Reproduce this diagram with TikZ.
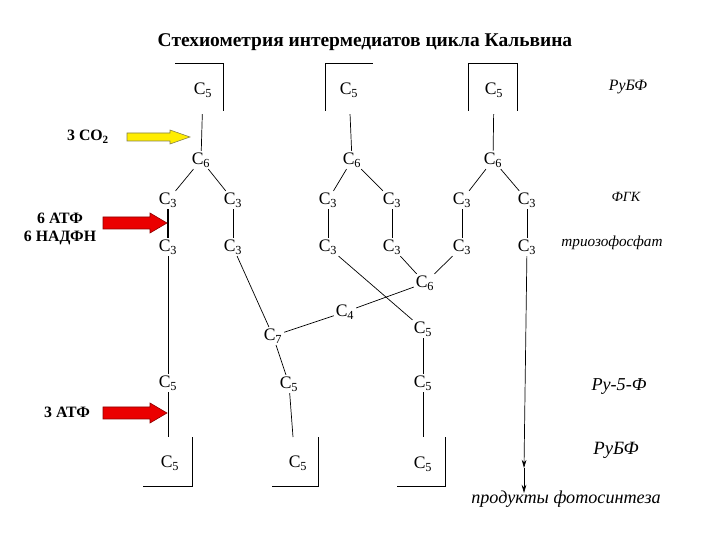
\documentclass[tikz,border=0pt]{standalone}
\usepackage{fontspec}
\setmainfont{Liberation Serif}
\usepackage{tikz}
\usetikzlibrary{arrows.meta}

\tikzset{
  cnode/.style={inner sep=1.5pt, font=\fontsize{15}{17}\selectfont},
  link/.style={line width=0.6pt},
  brk/.style={line width=0.6pt},
  sidelbl/.style={font=\fontsize{13.5}{15}\selectfont\bfseries, align=center},
  namelbl/.style={font=\fontsize{12.5}{15}\selectfont\itshape},
  yarrow/.style={fill=yellow!95!orange, draw=yellow!45!black, line width=0.5pt},
  rarrow/.style={fill=red!92!black, draw=red!55!black, line width=0.5pt},
}

\begin{document}
\begin{tikzpicture}[x=0.03cm, y=-0.03cm]
  \useasboundingbox (0,0) rectangle (720,540);

  \node[font=\fontsize{16.6}{18}\selectfont\bfseries] (title) at (365,42)
    {Стехиометрия интермедиатов цикла Кальвина};

  % brackets round the pentoses
  \draw[brk] (175,63) -- (223,63) -- (223,111);
  \draw[brk] (325,111) -- (325,63) -- (373,63);
  \draw[brk] (468,111) -- (468,63) -- (517,63) -- (517,111);
  \draw[brk] (192,437) -- (192,486) -- (143,486);
  \draw[brk] (318,437) -- (318,486) -- (272,486);
  \draw[brk] (445,437) -- (445,486) -- (397,486);

  % C-skeletons
  \node[cnode] (c5a) at (203,90) {C\textsubscript{5}};
  \node[cnode] (c5b) at (349,90) {C\textsubscript{5}};
  \node[cnode] (c5c) at (494,90) {C\textsubscript{5}};

  \node[cnode] (c6a) at (201,160) {C\textsubscript{6}};
  \node[cnode] (c6b) at (352,160) {C\textsubscript{6}};
  \node[cnode] (c6c) at (493,160) {C\textsubscript{6}};

  \node[cnode] (t1) at (168,200) {C\textsubscript{3}};
  \node[cnode] (t2) at (233,200) {C\textsubscript{3}};
  \node[cnode] (t3) at (328,200) {C\textsubscript{3}};
  \node[cnode] (t4) at (392,200) {C\textsubscript{3}};
  \node[cnode] (t5) at (462,200) {C\textsubscript{3}};
  \node[cnode] (t6) at (527,200) {C\textsubscript{3}};

  \node[cnode] (u1) at (168,247) {C\textsubscript{3}};
  \node[cnode] (u2) at (233,247) {C\textsubscript{3}};
  \node[cnode] (u3) at (328,247) {C\textsubscript{3}};
  \node[cnode] (u4) at (392,247) {C\textsubscript{3}};
  \node[cnode] (u5) at (462,247) {C\textsubscript{3}};
  \node[cnode] (u6) at (527,247) {C\textsubscript{3}};

  \node[cnode] (c6d) at (425,283) {C\textsubscript{6}};
  \node[cnode] (c4) at (345,312) {C\textsubscript{4}};
  \node[cnode] (c7) at (273,336) {C\textsubscript{7}};
  \node[cnode] (c5d) at (423,329) {C\textsubscript{5}};

  \node[cnode] (v1) at (168,383) {C\textsubscript{5}};
  \node[cnode] (v2) at (289,384) {C\textsubscript{5}};
  \node[cnode] (v3) at (423,383) {C\textsubscript{5}};

  \node[cnode] (w1) at (170,463) {C\textsubscript{5}};
  \node[cnode] (w2) at (298,463) {C\textsubscript{5}};
  \node[cnode] (w3) at (423,464) {C\textsubscript{5}};

  \coordinate (e1) at (168,437);
  \coordinate (e2) at (293,437);
  \coordinate (e3) at (423,437);
  \coordinate (p1) at (524,468);
  \coordinate (p2) at (524,493);

  % connections
  \draw[link, shorten <=0.45cm] (c5a) -- (c6a);
  \draw[link, shorten <=0.45cm] (c5b) -- (c6b);
  \draw[link, shorten <=0.45cm] (c5c) -- (c6c);
  \draw[link] (c6a) -- (t1);
  \draw[link] (c6a) -- (t2);
  \draw[link] (c6b) -- (t3);
  \draw[link] (c6b) -- (t4);
  \draw[link] (c6c) -- (t5);
  \draw[link] (c6c) -- (t6);
  \draw[line width=1.2pt] (t1) -- (u1);
  \draw[link] (t2) -- (u2);
  \draw[link] (t3) -- (u3);
  \draw[link] (t4) -- (u4);
  \draw[link] (t5) -- (u5);
  \draw[link] (t6) -- (u6);
  \draw[link] (u1) -- (v1);
  \draw[link] (u2) -- (c7);
  \draw[link] (u3) -- (c5d);
  \draw[link] (u4) -- (c6d);
  \draw[link] (u5) -- (c6d);
  \draw[link] (c6d) -- (c4);
  \draw[link] (c4) -- (c7);
  \draw[link] (c7) -- (v2);
  \draw[link] (c5d) -- (v3);
  \draw[link] (v1) -- (e1);
  \draw[link] (v2) -- (e2);
  \draw[link] (v3) -- (e3);
  \draw[link, -{Stealth[length=7pt,width=4pt]}] (u6) -- (p1);
  \draw[link, -{Stealth[length=7pt,width=4pt]}] (p1) -- (p2);

  % inputs
  \node[sidelbl] (co2) at (88,137) {3 CO\textsubscript{2}};
  \node[sidelbl] (atp1) at (60,229) {6 АТФ\\6 НАДФН};
  \node[sidelbl] (atp2) at (67,412) {3 АТФ};
  \filldraw[yarrow] (127,133) -- (170,133) -- (170,130) -- (190,137)
    -- (170,144) -- (170,141) -- (127,141) -- cycle;
  \filldraw[rarrow] (103,217) -- (150,217) -- (150,213) -- (167,223)
    -- (150,233) -- (150,229) -- (103,229) -- cycle;
  \filldraw[rarrow] (103,407) -- (150,407) -- (150,403) -- (167,413)
    -- (150,423) -- (150,419) -- (103,419) -- cycle;

  % names
  \node[namelbl, font=\fontsize{13.5}{15}\selectfont\itshape] (rubf1) at (628,87) {РуБФ};
  \node[namelbl, font=\fontsize{12}{14}\selectfont\itshape] (fgk) at (626,197) {ФГК};
  \node[namelbl, font=\fontsize{13}{15}\selectfont\itshape] (trio) at (612,243) {триозофосфат};
  \node[namelbl, font=\fontsize{15.5}{17}\selectfont\itshape] (ru5f) at (619,387) {Ру-5-Ф};
  \node[namelbl, font=\fontsize{16}{18}\selectfont\itshape] (rubf2) at (616,450) {РуБФ};
  \node[namelbl, font=\fontsize{15.5}{17}\selectfont\itshape] (prod) at (566,499) {продукты фотосинтеза};
\end{tikzpicture}
\end{document}
